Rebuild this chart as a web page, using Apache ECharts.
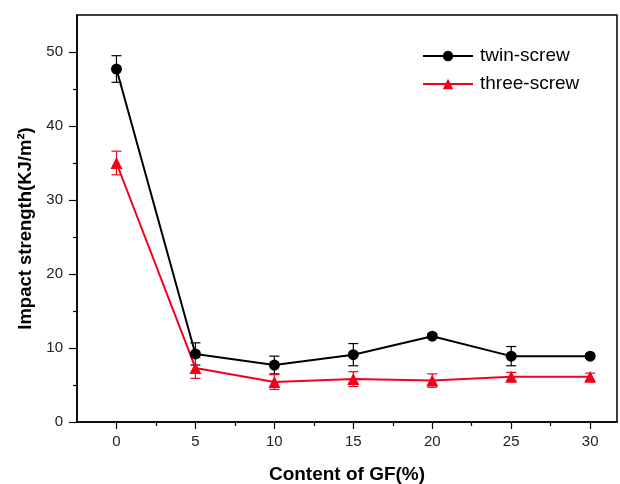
<!DOCTYPE html>
<html>
<head>
<meta charset="utf-8">
<script src="https://cdn.jsdelivr.net/npm/echarts@6/dist/echarts.min.js"></script>
<style>
html,body{margin:0;padding:0;background:#fff;}
#chart{width:620px;height:484px;}
</style>
</head>
<body>
<div id="chart"></div>
<script>
// GF content (%) on x
const gfContent=[0,5,10,15,20,25,30];

// impact strength, KJ/m2
const twinScrew=[47.7,9.2,7.7,9.1,11.6,8.9,8.9];
const twinErr=[1.8,1.5,1.2,1.5,0.3,1.3,0.3];

const threeScrew=[35.0,7.3,5.4,5.8,5.6,6.1,6.1];
const threeErr=[1.6,1.4,1.0,1.0,0.9,0.6,0.5];

const xTicks=[0,5,10,15,20,25,30];
const xMinorTicks=[2.5,7.5,12.5,17.5,22.5,27.5];
const yTicks=[0,10,20,30,40,50];
const yMinorTicks=[5,15,25,35,45];

const RED="#f5001c";
const FONT="Liberation Sans";

const chart=echarts.init(document.getElementById("chart"));

function errorSeries(name,vals,errs,color){
    return {
        name:name+"-err",
        type:"custom",
        z:1,
        silent:true,
        data:gfContent.map((x,i)=>[x,vals[i]-errs[i],vals[i]+errs[i]]),
        renderItem(params,api){
            const lo=api.coord([api.value(0),api.value(1)]);
            const hi=api.coord([api.value(0),api.value(2)]);
            const cap=5;
            const style={stroke:color,lineWidth:1.2};
            return {
                type:"group",
                children:[
                    {type:"line",shape:{x1:lo[0],y1:lo[1],x2:hi[0],y2:hi[1]},style},
                    {type:"line",shape:{x1:lo[0]-cap,y1:lo[1],x2:lo[0]+cap,y2:lo[1]},style},
                    {type:"line",shape:{x1:hi[0]-cap,y1:hi[1],x2:hi[0]+cap,y2:hi[1]},style}
                ]
            };
        }
    };
}

chart.setOption({
    backgroundColor:"#fff",
    animation:false,
    grid:{
        left:77,
        right:3,
        top:15,
        bottom:62,
        outerBoundsMode:"none",
        containLabel:false,
        show:true,
        borderColor:"#000",
        borderWidth:1.5,
        backgroundColor:"transparent"
    },
    legend:{
        orient:"vertical",
        left:417,
        top:41,
        itemWidth:50,
        itemHeight:13,
        itemGap:8,
        data:["twin-screw","three-screw"],
        textStyle:{fontFamily:FONT,fontSize:19,color:"#000",lineHeight:20,padding:[0,0,0,2]}
    },
    xAxis:[
        {
            type:"value",
            min:-2.5,
            max:31.7,
            name:"Content of GF(%)",
            nameLocation:"middle",
            nameGap:43,
            nameTextStyle:{fontFamily:FONT,fontSize:19,fontWeight:"bold",color:"#000"},
            axisLine:{onZero:false,lineStyle:{color:"#000",width:1.5}},
            axisTick:{show:true,length:7,customValues:xTicks,lineStyle:{color:"#000",width:1.2}},
            axisLabel:{customValues:xTicks,margin:12,fontFamily:FONT,fontSize:15,color:"#222"},
            splitLine:{show:false}
        },
        {
            type:"value",
            min:-2.5,
            max:31.7,
            position:"bottom",
            axisLine:{show:false,onZero:false},
            axisTick:{show:true,length:4,customValues:xMinorTicks,lineStyle:{color:"#000",width:1.2}},
            axisLabel:{show:false},
            splitLine:{show:false}
        }
    ],
    yAxis:[
        {
            type:"value",
            min:0,
            max:55,
            interval:10,
            name:"Impact strength(KJ/m²)",
            nameLocation:"middle",
            nameGap:40,
            nameTextStyle:{fontFamily:FONT,fontSize:18.5,fontWeight:"bold",color:"#000",padding:[0,20,0,0]},
            axisLine:{show:true,onZero:false,lineStyle:{color:"#000",width:1.5}},
            axisTick:{show:true,length:8,customValues:yTicks,lineStyle:{color:"#000",width:1.2}},
            axisLabel:{customValues:yTicks,margin:14,fontFamily:FONT,fontSize:15,color:"#222"},
            splitLine:{show:false}
        },
        {
            type:"value",
            min:0,
            max:55,
            position:"left",
            axisLine:{show:false,onZero:false},
            axisTick:{show:true,length:4,customValues:yMinorTicks,lineStyle:{color:"#000",width:1.2}},
            axisLabel:{show:false},
            splitLine:{show:false}
        }
    ],
    series:[
        errorSeries("twin-screw",twinScrew,twinErr,"#000"),
        errorSeries("three-screw",threeScrew,threeErr,RED),
        {
            name:"twin-screw",
            type:"line",
            z:3,
            data:gfContent.map((x,i)=>[x,twinScrew[i]]),
            symbol:"circle",
            symbolSize:11,
            itemStyle:{color:"#000"},
            lineStyle:{color:"#000",width:2}
        },
        {
            name:"three-screw",
            type:"line",
            z:3,
            data:gfContent.map((x,i)=>[x,threeScrew[i]]),
            symbol:"triangle",
            symbolSize:12,
            itemStyle:{color:RED},
            lineStyle:{color:RED,width:2}
        }
    ]
});

window.addEventListener("resize",()=>chart.resize());
</script>
</body>
</html>
